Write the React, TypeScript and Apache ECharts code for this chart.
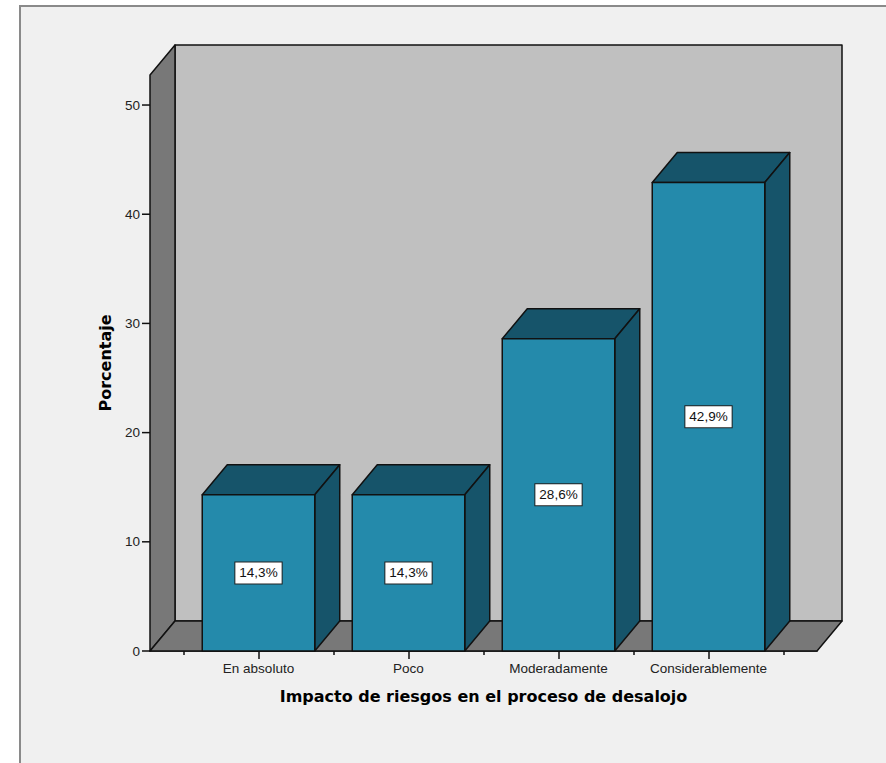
import React, { useEffect, useRef } from 'react';
import * as echarts from 'echarts';

// ---- Data ----
const categories = ['En absoluto', 'Poco', 'Moderadamente', 'Considerablemente'];
const percentages = [14.3, 14.3, 28.6, 42.9];
const valueLabels = ['14,3%', '14,3%', '28,6%', '42,9%'];
const yTickValues = [0, 10, 20, 30, 40, 50];
const majorTickValues = [0, 1, 2, 3];
const minorTickValues = [-0.5, 0.5, 1.5, 2.5, 3.5];

// ---- Layout / style constants ----
const Y_MAX = 52.75;
const X_MIN = -0.7233;
const X_MAX = 3.7233;
const DEPTH_X = 25;
const DEPTH_Y = -30;
const BAR_HALF = 0.375;
const Y_TICK_LEN = 8;
const FRONT = '#248aab';
const DARK = '#16546a';
const WALL_SIDE = '#787878';
const WALL_BACK = '#c0c0c0';
const EDGE = '#111111';

export default function App() {
  const ref = useRef<HTMLDivElement>(null);

  useEffect(() => {
    document.body.style.margin = '0';
    if (!ref.current) return;
    const chart = echarts.init(ref.current, undefined, { renderer: 'svg' });

    const frameRender = (params: any, api: any) => {
      const fl = api.coord([X_MIN, 0]);
      const fr = api.coord([X_MAX, 0]);
      const tl = api.coord([X_MIN, Y_MAX]);
      const tr = api.coord([X_MAX, Y_MAX]);
      const sh = (p: number[]) => [p[0] + DEPTH_X, p[1] + DEPTH_Y];
      const stroke = { stroke: EDGE, lineWidth: 1.5, lineJoin: 'round' };
      const ticks = yTickValues.map((t) => {
        const p = api.coord([X_MIN, t]);
        return {
          type: 'line',
          shape: { x1: p[0] - Y_TICK_LEN, y1: p[1], x2: p[0], y2: p[1] },
          style: { stroke: EDGE, lineWidth: 1.5 },
        };
      });
      return {
        type: 'group',
        children: [
          {
            type: 'polygon',
            shape: { points: [sh(tl), sh(tr), sh(fr), sh(fl)] },
            style: { fill: WALL_BACK, ...stroke },
          },
          {
            type: 'polygon',
            shape: { points: [fl, tl, sh(tl), sh(fl)] },
            style: { fill: WALL_SIDE, ...stroke },
          },
          {
            type: 'polygon',
            shape: { points: [fl, sh(fl), sh(fr), fr] },
            style: { fill: WALL_SIDE, ...stroke },
          },
          ...ticks,
        ],
      };
    };

    const barRender = (params: any, api: any) => {
      const i = api.value(0);
      const v = api.value(1);
      const p0 = api.coord([i - BAR_HALF, v]);
      const p1 = api.coord([i + BAR_HALF, 0]);
      const stroke = { stroke: EDGE, lineWidth: 1.5, lineJoin: 'round' };
      const x0 = p0[0], y0 = p0[1], x1 = p1[0], y1 = p1[1];
      return {
        type: 'group',
        children: [
          {
            type: 'polygon',
            shape: {
              points: [
                [x0, y0],
                [x1, y0],
                [x1 + DEPTH_X, y0 + DEPTH_Y],
                [x0 + DEPTH_X, y0 + DEPTH_Y],
              ],
            },
            style: { fill: DARK, ...stroke },
          },
          {
            type: 'polygon',
            shape: {
              points: [
                [x1, y0],
                [x1, y1],
                [x1 + DEPTH_X, y1 + DEPTH_Y],
                [x1 + DEPTH_X, y0 + DEPTH_Y],
              ],
            },
            style: { fill: DARK, ...stroke },
          },
          {
            type: 'rect',
            shape: { x: x0, y: y0, width: x1 - x0, height: y1 - y0 },
            style: { fill: FRONT, ...stroke },
          },
          {
            type: 'text',
            x: (x0 + x1) / 2,
            y: (y0 + y1) / 2,
            style: {
              text: valueLabels[params.dataIndex],
              fontFamily: 'Liberation Sans, Arial, sans-serif',
              fontSize: 13.5,
              fill: '#111',
              align: 'center',
              verticalAlign: 'middle',
              backgroundColor: '#ffffff',
              borderColor: '#222',
              borderWidth: 1,
              padding: [4, 4, 3, 4],
            },
          },
        ],
      };
    };

    const option: any = {
      animation: false,
      backgroundColor: '#ffffff',
      graphic: [
        {
          type: 'rect',
          left: 19,
          top: 5,
          z: -10,
          shape: { width: 900, height: 800 },
          style: { fill: '#f0f0f0', stroke: '#8a8a8a', lineWidth: 2 },
        },
      ],
      grid: { left: 150, right: 69, top: 75, bottom: 112 },
      xAxis: [
        {
          type: 'value',
          min: X_MIN,
          max: X_MAX,
          position: 'bottom',
          axisLine: { show: true, lineStyle: { color: '#111', width: 1.5 } },
          splitLine: { show: false },
          axisTick: {
            show: true,
            customValues: majorTickValues,
            length: 8,
            lineStyle: { color: '#111', width: 1.5 },
          },
          axisLabel: {
            customValues: majorTickValues,
            formatter: (val: number) => categories[Math.round(val)] ?? '',
            fontFamily: 'Liberation Sans, Arial, sans-serif',
            fontSize: 13.5,
            color: '#222',
            margin: 10,
          },
          name: 'Impacto de riesgos en el proceso de desalojo',
          nameLocation: 'middle',
          nameGap: 37,
          nameTextStyle: {
            fontFamily: 'DejaVu Sans, sans-serif',
            fontWeight: 'bold',
            fontSize: 16,
            color: '#000',
          },
        },
        {
          type: 'value',
          min: X_MIN,
          max: X_MAX,
          position: 'bottom',
          offset: 0,
          axisLine: { show: false },
          splitLine: { show: false },
          axisLabel: { show: false },
          axisTick: {
            show: true,
            customValues: minorTickValues,
            length: 4,
            lineStyle: { color: '#111', width: 1.5 },
          },
        },
      ],
      yAxis: {
        type: 'value',
        min: 0,
        max: Y_MAX,
        axisLine: { show: true, lineStyle: { color: '#111', width: 1.5 } },
        splitLine: { show: false },
        axisTick: {
          show: true,
          customValues: yTickValues,
          length: Y_TICK_LEN,
          lineStyle: { color: '#111', width: 1.5 },
        },
        axisLabel: {
          customValues: yTickValues,
          fontFamily: 'Liberation Sans, Arial, sans-serif',
          fontSize: 13.5,
          color: '#222',
          margin: 10,
        },
        name: 'Porcentaje',
        nameLocation: 'middle',
        nameGap: 37,
        nameTextStyle: {
          fontFamily: 'DejaVu Sans, sans-serif',
          fontWeight: 'bold',
          fontSize: 16,
          color: '#000',
        },
      },
      series: [
        {
          type: 'custom',
          name: 'frame',
          silent: true,
          xAxisIndex: 0,
          yAxisIndex: 0,
          z: 1,
          renderItem: frameRender,
          data: [[0, 0]],
        },
        {
          type: 'custom',
          name: 'Porcentaje',
          silent: true,
          xAxisIndex: 0,
          yAxisIndex: 0,
          z: 2,
          renderItem: barRender,
          data: percentages.map((p, i) => [i, p]),
        },
      ],
    };

    chart.setOption(option);
    return () => chart.dispose();
  }, []);

  return (
    <div
      ref={ref}
      style={{ width: 886, height: 763, position: 'absolute', left: 0, top: 0 }}
    />
  );
}
